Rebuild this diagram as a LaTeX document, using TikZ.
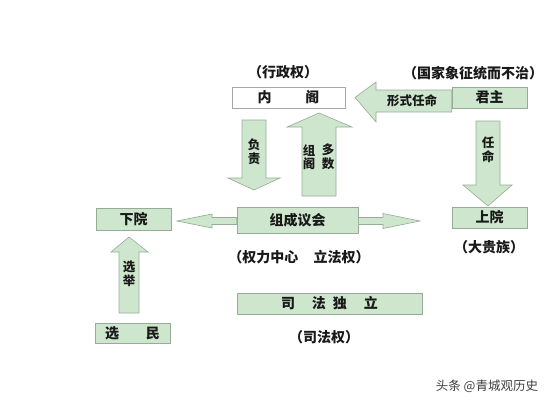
\documentclass[tikz,border=0pt]{standalone}
\usepackage{fontspec}
\setmainfont{Noto Sans CJK SC}
\definecolor{gr}{RGB}{206,230,206}
\definecolor{bd}{RGB}{150,172,150}
\definecolor{txt}{RGB}{25,25,25}
\begin{document}
\begin{tikzpicture}[x=1pt,y=-1pt,
  box/.style={draw=bd, fill=gr, line width=0.6pt, inner sep=0pt, text=txt,
    font=\bfseries\fontsize{14}{14}\selectfont},
  blk/.style={draw=bd, fill=gr, line width=0.6pt, line join=miter},
  lbl/.style={inner sep=0pt, text=txt, font=\bfseries\fontsize{14}{14}\selectfont},
  vtx/.style={inner sep=0pt, text=txt, align=center,
    font=\bfseries\fontsize{12.5}{13.5}\selectfont}]
\useasboundingbox (0,0) rectangle (554,407);
\fill[white] (0,0) rectangle (554,407);
% boxes
\node[box, draw=gray!70, fill=white, minimum width=113pt, minimum height=21pt] (neige) at (288.5,97.5) {内\hspace{2.4em}阁};
\node[box, minimum width=75pt, minimum height=21pt] (junzhu) at (489.5,97.5) {君主};
\node[box, minimum width=121pt, minimum height=26pt] (yihui) at (297.5,220) {组成议会};
\node[box, minimum width=75pt, minimum height=22pt] (xiayuan) at (133.5,219) {下院};
\node[box, minimum width=75pt, minimum height=21pt] (shangyuan) at (489.5,217.5) {上院};
\node[box, minimum width=75pt, minimum height=20pt] (xuanmin) at (132.5,333) {选\hspace{1.9em}民};
\node[box, minimum width=185pt, minimum height=21pt] (sifa) at (329.5,303.5) {司\hspace{1.2em}法\hspace{0.5em}独\hspace{1.2em}立};
% labels
\node[lbl] (l1) at (283,72) {（行政权）};
\node[lbl] (l2) at (473,73) {（国家象征统而不治）};
\node[lbl] (l3) at (299,257) {（权力中心\hspace{1.1em}立法权）};
\node[lbl] (l4) at (489,247) {（大贵族）};
\node[lbl] (l5) at (324,337) {（司法权）};
% arrow: 形式任命 (left)
\draw[blk] (junzhu.west |- 0,90) -- (376,90) -- (376,82) -- (neige.east -| 355,0) -- (376,122) -- (376,112) -- (junzhu.west |- 0,112) -- cycle;
\node[vtx] (xs) at (412,101) {形式任命};
% arrow: 负责 (down)
\draw[blk] (242,120) -- (266,120) -- (266,178) -- (280,178) -- (254,190) -- (228,178) -- (242,178) -- cycle;
\node[vtx] (fz) at (254,152) {负\\责};
% arrow: 组阁多数 (up)
\draw[blk] (302,196) -- (302,127) -- (287,127) -- (319,113) -- (352,127) -- (336,127) -- (336,196) -- cycle;
\node[vtx] (zg) at (309,157) {组\\阁};
\node[vtx] (ds) at (328,157) {多\\数};
% arrow: 任命 (down)
\draw[blk] (476,121) -- (500,121) -- (500,185) -- (512,185) -- (488,206) -- (463,185) -- (476,185) -- cycle;
\node[vtx] (rm) at (488,150) {任\\命};
% arrow: 选举 (up)
\draw[blk] (119,313) -- (119,252) -- (111,252) -- (129,237) -- (148,252) -- (139,252) -- (139,313) -- cycle;
\node[vtx] (xj) at (129,274) {选\\举};
% double arrow
\draw[blk] (yihui.west |- 0,217.5) -- (212,217.5) -- (212,214) -- (177,221) -- (212,228) -- (212,224.5) -- (yihui.west |- 0,224.5) -- cycle;
\draw[blk] (yihui.east |- 0,217.5) -- (383,217.5) -- (383,213.5) -- (420,221) -- (383,228.5) -- (383,224.5) -- (yihui.east |- 0,224.5) -- cycle;
% watermark
\node[inner sep=0pt, text=black!75, font=\fontsize{12.5}{12.5}\selectfont] (wm) at (487,386) {头条 @青城观历史};
\end{tikzpicture}
\end{document}
